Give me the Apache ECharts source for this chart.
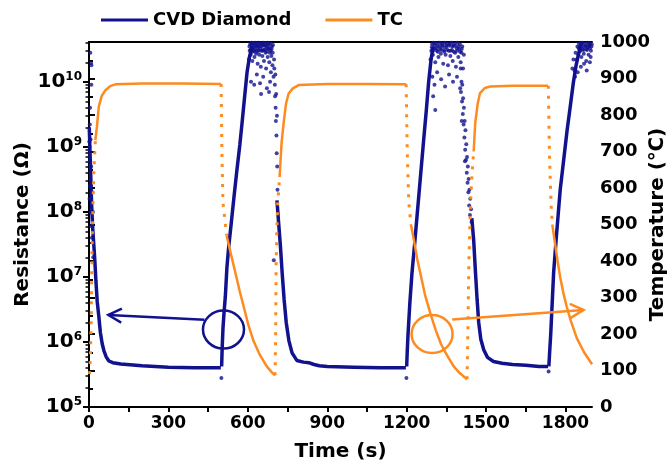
<!DOCTYPE html>
<html>
<head>
<meta charset="utf-8">
<script src="https://cdn.jsdelivr.net/npm/echarts@6.0.0/dist/echarts.min.js"></script>
<style>
  html, body { margin: 0; padding: 0; background: #fff; }
  #chart { width: 671px; height: 472px; }
</style>
</head>
<body>
<div id="chart"></div>
<script>
// ---- data: [time (s), resistance (Ohm)] ----
const blueDecay1 = [[1,2.0e9],[4,7.9e8],[7,3.2e8],[10,1.26e8],[14,5.6e7],[18,3.2e7],[22,1.8e7],[26,8.9e6],[31,4.2e6],[37,2.5e6],[43,1.4e6],[50,9.3e5],[57,7.2e5],[65,5.9e5],[75,5.1e5],[90,4.8e5],[120,4.6e5],[200,4.3e5],[300,4.1e5],[400,4.0e5],[498,4.0e5]];
const blueRise1 = [[501,4.2e5],[503,8.0e5],[506,1.6e6],[510,2.8e6],[515,5.0e6],[521,1.4e7],[528,3.0e7],[534,5.0e7],[547,1.6e8],[559,4.5e8],[570,1.1e9],[578,2.3e9],[588,6.0e9],[597,1.4e10],[606,2.4e10],[616,3.5e10]];
const blueDecay2 = [[710,1.5e8],[716,7.0e7],[723,3.0e7],[730,1.1e7],[737,4.5e6],[745,2.0e6],[755,1.05e6],[767,6.8e5],[785,5.2e5],[810,4.9e5],[830,4.8e5],[850,4.5e5],[870,4.3e5],[900,4.2e5],[1000,4.1e5],[1100,4.0e5],[1197,4.0e5]];
const blueRise2 = [[1200,4.2e5],[1202,7.0e5],[1205,1.3e6],[1212,4.0e6],[1220,1.15e7],[1230,3.2e7],[1239,8.5e7],[1250,2.8e8],[1264,1.26e9],[1275,4.0e9],[1283,1.0e10],[1292,2.2e10],[1300,3.5e10]];
const blueDecay3 = [[1446,8.0e7],[1453,3.7e7],[1460,1.15e7],[1466,4.5e6],[1472,2.0e6],[1480,1.1e6],[1491,7.6e5],[1505,5.8e5],[1528,5.0e5],[1560,4.7e5],[1600,4.5e5],[1650,4.4e5],[1700,4.2e5],[1734,4.2e5]];
const blueRise3 = [[1737,4.2e5],[1740,7.0e5],[1744,1.3e6],[1749,3.5e6],[1755,1.15e7],[1765,4.0e7],[1780,2.2e8],[1793,6.3e8],[1806,1.8e9],[1818,4.2e9],[1830,1.0e10],[1840,1.8e10],[1852,3.0e10],[1860,4.0e10]];

const blueStartDots = [[5,2.8e10],[8,1.95e10],[9,1.8e10],[9,9.0e9],[4,4.0e9],[3,2.2e9],[6,1.3e9],[2,1.0e9],[5,4.0e8],[3,2.5e8],[8,5.0e8],[12,2.0e8],[6,1.0e8],[15,1.0e8],[11,4.0e7],[16,2.0e7],[2,1.6e8],[4,6.0e8],[1,1.2e9],[7,2.5e8],[10,6.0e7]];
const blueCloud1 = [[604,2.2e10],[607,3.0e10],[609,3.8e10],[611,2.6e10],[613,4.0e10],[615,3.3e10],[617,2.1e10],[619,3.9e10],[621,3.0e10],[623,3.6e10],[625,2.4e10],[627,4.0e10],[629,3.2e10],[631,2.7e10],[633,3.9e10],[635,3.5e10],[637,1.9e10],[639,3.1e10],[641,4.0e10],[643,2.6e10],[645,3.6e10],[647,3.9e10],[649,1.7e10],[651,3.0e10],[653,3.8e10],[655,2.5e10],[657,4.0e10],[659,3.1e10],[661,2.1e10],[663,3.6e10],[665,3.9e10],[667,2.8e10],[669,1.6e10],[671,3.3e10],[673,4.0e10],[675,2.4e10],[677,3.2e10],[679,3.8e10],[681,2.0e10],[683,2.8e10],[685,3.9e10],[687,1.4e10],[689,2.5e10],[691,3.5e10],[693,1.8e10],[695,3.7e10],[697,1.2e10],[699,2.2e10],
  [606,3.5e10],[610,3.1e10],[614,3.7e10],[618,2.9e10],[622,3.4e10],[626,3.0e10],[630,3.7e10],[634,2.9e10],[638,3.5e10],[642,3.0e10],[646,3.3e10],[652,3.5e10],[656,3.0e10],[660,3.7e10],[664,3.1e10],[668,3.6e10],[672,2.9e10],[676,3.6e10],[682,3.3e10],[686,3.0e10],[690,3.2e10],[694,2.8e10],
  [612,1.0e10],[624,9.0e9],[634,1.3e10],[646,9.5e9],[658,1.2e10],[672,8.0e9],[684,1.0e10],[650,6.5e9],[680,7.0e9],
  [700,1.6e10],[702,9.0e9],[703,6.0e9],[704,1.3e10],[705,4.0e9],[706,2.5e9],[707,6.5e9],[708,1.5e9],[709,8.0e8],[710,3.0e9],[711,5.0e8],[712,2.2e8],[698,1.8e7]];
const blueCloud2 = [[1290,2.2e10],[1293,3.0e10],[1296,3.8e10],[1299,2.6e10],[1302,4.0e10],[1305,3.3e10],[1308,2.0e10],[1311,3.9e10],[1314,3.0e10],[1317,3.6e10],[1320,2.4e10],[1323,4.0e10],[1326,3.2e10],[1329,2.7e10],[1332,3.9e10],[1335,3.5e10],[1338,1.9e10],[1341,3.1e10],[1344,4.0e10],[1347,2.6e10],[1350,3.6e10],[1353,3.9e10],[1356,1.8e10],[1359,3.0e10],[1362,3.8e10],[1365,2.5e10],[1368,4.0e10],[1371,3.1e10],[1374,2.1e10],[1377,3.6e10],[1380,3.9e10],[1383,2.8e10],[1386,1.7e10],[1389,3.3e10],[1392,4.0e10],[1395,2.4e10],[1398,3.2e10],[1401,3.8e10],[1404,2.0e10],[1407,2.8e10],[1410,3.5e10],[1413,1.6e10],[1416,2.6e10],
  [1295,3.4e10],[1300,3.0e10],[1306,3.7e10],[1312,3.3e10],[1318,2.9e10],[1324,3.5e10],[1330,3.1e10],[1336,3.7e10],[1342,2.9e10],[1348,3.4e10],[1354,3.1e10],[1360,3.6e10],[1366,3.0e10],[1372,3.5e10],[1378,2.9e10],[1384,3.6e10],[1390,3.0e10],[1396,3.5e10],[1402,2.9e10],[1408,3.2e10],
  [1297,1.2e10],[1305,9.0e9],[1308,3.7e9],[1315,1.4e10],[1330,1.1e10],[1345,8.5e9],[1360,1.3e10],[1375,1.0e10],[1390,1.2e10],[1300,6.0e9],
  [1404,1.6e10],[1407,1.0e10],[1405,7.0e9],[1410,9.0e9],[1409,5.0e9],[1413,5.6e9],[1412,3.2e9],[1416,4.0e9],[1415,2.2e9],[1419,2.5e9],[1418,1.4e9],[1422,1.8e9],[1421,9.0e8],[1425,1.1e9],[1424,6.3e8],[1428,7.0e8],[1427,4.0e8],[1431,5.0e8],[1430,2.8e8],[1434,3.2e8],[1433,2.0e8],[1437,2.2e8],[1436,1.26e8],[1440,1.6e8],[1439,9.0e7],[1443,1.1e8],[1445,7.0e7],[1402,8.0e9],[1408,2.5e9],[1420,6.0e8]];
const blueCloud3 = [[1826,1.6e10],[1830,2.2e10],[1834,1.5e10],[1838,2.8e10],[1842,2.2e10],[1845,3.5e10],[1848,2.6e10],[1851,3.9e10],[1854,3.0e10],[1857,3.6e10],[1860,2.4e10],[1863,4.0e10],[1866,3.2e10],[1869,2.7e10],[1872,3.9e10],[1875,3.5e10],[1878,2.1e10],[1881,3.1e10],[1884,4.0e10],[1887,2.6e10],[1890,3.6e10],[1893,3.9e10],[1896,3.0e10],[1899,3.8e10],[1836,1.2e10],[1846,1.4e10],[1858,1.7e10],[1870,1.9e10],[1880,1.5e10],[1892,2.0e10],[1885,3.4e10],[1895,2.4e10],
  [1850,3.3e10],[1856,3.0e10],[1862,3.5e10],[1868,3.1e10],[1874,3.6e10],[1880,3.2e10],[1886,3.7e10],[1892,3.3e10],[1898,3.5e10]];
const blueDips = [[500,2.8e5],[1199,2.8e5],[1736,3.5e5]];

// ---- thermocouple: [time (s), temperature (C)] ----
const tcRise1 = [[24,731],[30,768],[37,823],[48,852],[62,868],[80,879],[100,884],[200,886],[350,886],[499,885]];
const tcFall1 = [[520,470],[534,425],[553,368],[570,315],[584,276],[603,222],[622,180],[646,142],[671,112],[690,95],[703,87]];
const tcRise2 = [[720,630],[727,720],[735,777],[744,830],[754,859],[770,873],[792,882],[900,885],[1050,885],[1198,884]];
const tcFall2 = [[1216,500],[1226,462],[1240,405],[1252,365],[1270,305],[1290,255],[1310,210],[1330,172],[1352,142],[1377,112],[1400,93],[1428,76]];
const tcRise3 = [[1453,700],[1459,778],[1468,830],[1477,860],[1495,874],[1516,878],[1600,880],[1734,880]];
const tcFall3 = [[1750,500],[1761,445],[1770,400],[1780,355],[1792,312],[1804,276],[1820,236],[1843,188],[1870,150],[1900,117]];
// fast transitions (sparse samples, drawn dotted)
const tcJumps = [
  [[2,90],[5,130],[8,230],[12,457],[18,640],[24,731]],
  [[499,885],[502,700],[506,560],[520,470]],
  [[703,87],[705,200],[707,400],[712,550],[720,630]],
  [[1198,884],[1202,700],[1208,560],[1216,500]],
  [[1428,76],[1431,200],[1435,400],[1441,560],[1447,640],[1453,700]],
  [[1735,880],[1739,700],[1745,560],[1750,500]]
];

const decades = [5, 6, 7, 8, 9, 10];
const timeLabels = [0, 300, 600, 900, 1200, 1500, 1800];
const timeTicks = [0, 150, 300, 450, 600, 750, 900, 1050, 1200, 1350, 1500, 1650, 1800];

const BLUE = '#12128f';
const ORANGE = '#fd8b1f';
const FONT = 'DejaVu Sans';
const LOG_MIN = 5;
const LOG_MAX = Math.log10(4.1e10);

const minorLog = [];
decades.forEach(function (n) {
  for (let k = 2; k <= 9; k++) {
    const v = n + Math.log10(k);
    if (v < LOG_MAX) minorLog.push(v);
  }
});

function toLog(arr) { return arr.map(function (p) { return [p[0], Math.log10(p[1])]; }); }

const series = [];
[blueDecay1, blueRise1, blueDecay2, blueRise2, blueDecay3, blueRise3].forEach(function (d) {
  series.push({
    name: 'CVD Diamond', type: 'line', xAxisIndex: 0, yAxisIndex: 0,
    data: toLog(d), symbol: 'none', color: BLUE,
    lineStyle: { color: BLUE, width: 3.5 }, itemStyle: { color: BLUE }, z: 3
  });
});
[blueStartDots, blueCloud1, blueCloud2, blueCloud3, blueDips].forEach(function (d) {
  series.push({
    name: 'CVD Diamond', type: 'scatter', xAxisIndex: 0, yAxisIndex: 0,
    data: toLog(d), symbolSize: 4, color: BLUE, itemStyle: { color: BLUE }, z: 3
  });
});
[tcRise1, tcFall1, tcRise2, tcFall2, tcRise3, tcFall3].forEach(function (d) {
  series.push({
    name: 'TC', type: 'line', xAxisIndex: 0, yAxisIndex: 1,
    data: d, symbol: 'none', color: ORANGE,
    lineStyle: { color: ORANGE, width: 2.5 }, itemStyle: { color: ORANGE }, z: 4
  });
});
tcJumps.forEach(function (d) {
  series.push({
    name: 'TC', type: 'line', xAxisIndex: 0, yAxisIndex: 1,
    data: d, symbol: 'none', color: ORANGE,
    lineStyle: { color: ORANGE, width: 3, type: [3, 7] }, itemStyle: { color: ORANGE }, z: 4
  });
});

const axisLine = { show: true, lineStyle: { color: '#000', width: 2 } };
const tickStyle = { color: '#000', width: 2 };
const plain = function (v) { return String(v); };

const chart = echarts.init(document.getElementById('chart'), null, { renderer: 'canvas' });
chart.setOption({
  animation: false,
  backgroundColor: '#fff',
  textStyle: { fontFamily: FONT },
  legend: {
    data: ['CVD Diamond', 'TC'],
    left: 96, top: 6,
    icon: 'rect', itemWidth: 47, itemHeight: 3, itemGap: 34,
    selectedMode: false,
    textStyle: { fontSize: 18, fontWeight: 'bold', color: '#000', fontFamily: FONT }
  },
  grid: [
    { left: 89, right: 79, top: 42, bottom: 65, outerBoundsMode: 'none' },
    { left: 89, right: 79, top: 42, bottom: 65, outerBoundsMode: 'none' }
  ],
  xAxis: [
    {
      type: 'value', gridIndex: 0, position: 'bottom', min: 0, max: 1900,
      axisLine: axisLine,
      axisTick: { show: true, customValues: timeTicks, length: 5, lineStyle: tickStyle },
      axisLabel: { customValues: timeLabels, formatter: plain, fontSize: 17, fontWeight: 'bold', color: '#000', margin: 8, fontFamily: FONT },
      splitLine: { show: false },
      name: 'Time (s)', nameLocation: 'middle', nameGap: 35, nameMoveOverlap: false,
      nameTextStyle: { fontSize: 20, fontWeight: 'bold', color: '#000', fontFamily: FONT }
    },
    {
      type: 'value', gridIndex: 0, position: 'top', min: 0, max: 1900,
      axisLine: axisLine, axisTick: { show: false }, axisLabel: { show: false }, splitLine: { show: false }
    },
    {
      type: 'value', gridIndex: 1, min: 0, max: 1900, show: false
    }
  ],
  yAxis: [
    {
      type: 'value', gridIndex: 0, position: 'left', min: LOG_MIN, max: LOG_MAX,
      axisLine: axisLine,
      axisTick: { show: true, customValues: decades, length: 6, lineStyle: tickStyle },
      axisLabel: {
        customValues: decades, margin: 7,
        formatter: function (v) { return '{b|10}{s|' + v + '}'; },
        rich: {
          b: { fontSize: 20, fontWeight: 'bold', color: '#000', fontFamily: FONT, lineHeight: 22 },
          s: { fontSize: 12, fontWeight: 'bold', color: '#000', fontFamily: FONT, lineHeight: 22, verticalAlign: 'top' }
        }
      },
      splitLine: { show: false },
      name: 'Resistance (Ω)', nameLocation: 'middle', nameRotate: 90, nameGap: 56, nameMoveOverlap: false,
      nameTextStyle: { fontSize: 20, fontWeight: 'bold', color: '#000', fontFamily: FONT }
    },
    {
      type: 'value', gridIndex: 0, position: 'right', min: 0, max: 1000, interval: 100,
      axisLine: axisLine,
      axisTick: { show: true, length: 6, lineStyle: tickStyle },
      minorTick: { show: true, splitNumber: 2, length: 4, lineStyle: tickStyle },
      axisLabel: { formatter: plain, fontSize: 18, fontWeight: 'bold', color: '#000', margin: 8, fontFamily: FONT },
      splitLine: { show: false },
      name: 'Temperature (℃)', nameLocation: 'middle', nameRotate: 90, nameGap: 56, nameMoveOverlap: false,
      nameTextStyle: { fontSize: 20, fontWeight: 'bold', color: '#000', fontFamily: FONT }
    },
    {
      type: 'value', gridIndex: 1, position: 'left', min: LOG_MIN, max: LOG_MAX,
      axisLine: { show: false },
      axisTick: { show: true, customValues: minorLog, length: 3.5, lineStyle: { color: '#000', width: 1.5 } },
      axisLabel: { show: false },
      splitLine: { show: false }
    }
  ],
  series: series
});

// ---- annotations (ellipse + arrow), anchored in data coordinates ----
const notes = [
  { color: BLUE, yAxisIndex: 0, center: [508, Math.log10(1.55e6)], tail: [436, Math.log10(2.2e6)], head: [73, Math.log10(2.6e6)] },
  { color: ORANGE, yAxisIndex: 1, center: [1296, 200], tail: [1372, 240], head: [1868, 266] }
];
const graphics = [];
notes.forEach(function (n) {
  const c = chart.convertToPixel({ xAxisIndex: 0, yAxisIndex: n.yAxisIndex }, n.center);
  const a = chart.convertToPixel({ xAxisIndex: 0, yAxisIndex: n.yAxisIndex }, n.tail);
  const b = chart.convertToPixel({ xAxisIndex: 0, yAxisIndex: n.yAxisIndex }, n.head);
  const dx = b[0] - a[0], dy = b[1] - a[1];
  const len = Math.sqrt(dx * dx + dy * dy);
  const ux = dx / len, uy = dy / len;
  const L = 15, ang = 28 * Math.PI / 180;
  function arm(s) {
    const cs = Math.cos(s * ang), sn = Math.sin(s * ang);
    const rx = ux * cs - uy * sn, ry = ux * sn + uy * cs;
    return [b[0] - rx * L, b[1] - ry * L];
  }
  graphics.push({ type: 'ellipse', shape: { cx: c[0], cy: c[1], rx: 20.5, ry: 19 }, style: { stroke: n.color, lineWidth: 2.5, fill: null }, z: 10 });
  graphics.push({ type: 'line', shape: { x1: a[0], y1: a[1], x2: b[0], y2: b[1] }, style: { stroke: n.color, lineWidth: 2.5 }, z: 10 });
  graphics.push({ type: 'polyline', shape: { points: [arm(1), b, arm(-1)] }, style: { stroke: n.color, lineWidth: 2.5, fill: null }, z: 10 });
});
chart.setOption({ graphic: graphics });
</script>
</body>
</html>
